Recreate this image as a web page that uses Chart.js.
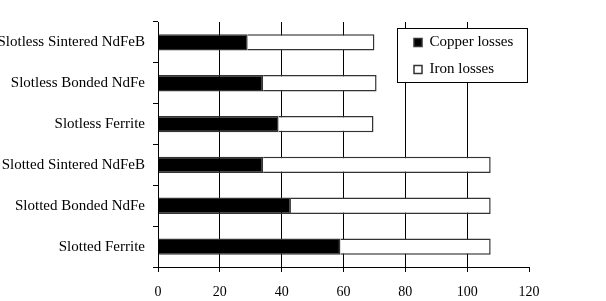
<!DOCTYPE html>
<html>
<head>
<meta charset="utf-8">
<script src="https://cdn.jsdelivr.net/npm/chart.js@4.4.1/dist/chart.umd.min.js"></script>
<style>
  html, body { margin: 0; padding: 0; background: #ffffff; }
  #wrap { width: 606px; height: 301px; position: relative; }
</style>
</head>
<body>
<div id="wrap"><canvas id="c" width="606" height="301"></canvas></div>
<script>
// ---- data ----
const categories = [
  "Slotless Sintered NdFeB",
  "Slotless Bonded NdFe",
  "Slotless Ferrite",
  "Slotted Sintered NdFeB",
  "Slotted Bonded NdFe",
  "Slotted Ferrite"
];
const copperLosses = [29, 34, 39, 34, 43, 59];
const ironLosses   = [41, 36.7, 30.7, 73.6, 64.6, 48.6];
const seriesNames  = ["Copper losses", "Iron losses"];
const xTicks       = [0, 20, 40, 60, 80, 100, 120];

// ---- legend frame plugin ----
const legendFrame = {
  id: 'legendFrame',
  afterLayout(chart) {
    const lg = chart.legend;
    if (!lg) return;
    lg.left = 402; lg.top = 23;
    lg.right = lg.left + 126; lg.bottom = lg.top + 200;
    if (!lg._wrapped) {
      const orig = lg.draw.bind(lg);
      lg.draw = function () {
        const ctx = chart.ctx;
        ctx.save();
        ctx.fillStyle = '#ffffff';
        ctx.fillRect(397, 28, 131, 54);
        ctx.strokeStyle = '#000000';
        ctx.lineWidth = 1;
        ctx.strokeRect(397.5, 28.5, 130, 54);
        ctx.restore();
        orig();
      };
      lg._wrapped = true;
    }
  }
};

Chart.defaults.font.family = "'Liberation Serif', 'Times New Roman', serif";
Chart.defaults.color = '#000000';

new Chart(document.getElementById('c'), {
  type: 'bar',
  data: {
    labels: categories,
    datasets: [
      {
        label: seriesNames[0],
        data: copperLosses,
        backgroundColor: '#000000',
        borderColor: '#333333',
        borderWidth: 1.5
      },
      {
        label: seriesNames[1],
        data: ironLosses,
        backgroundColor: '#ffffff',
        borderColor: '#333333',
        borderWidth: 1.5
      }
    ]
  },
  options: {
    indexAxis: 'y',
    responsive: false,
    animation: false,
    devicePixelRatio: 1,
    barPercentage: 0.4,
    categoryPercentage: 1,
    layout: { padding: { left: 0, top: 22, right: 77, bottom: 0 } },
    plugins: {
      tooltip: { enabled: false },
      legend: {
        position: 'chartArea',
        align: 'start',
        labels: {
          font: { size: 15 },
          color: '#000000',
          boxWidth: 8,
          boxHeight: 8,
          padding: 12
        }
      }
    },
    scales: {
      x: {
        stacked: true,
        min: 0,
        max: 120,
        afterBuildTicks(scale) { scale.ticks = xTicks.map(v => ({ value: v })); },
        afterFit(scale) { scale.height = 34; },
        ticks: { font: { size: 14 }, color: '#000000', padding: 12 },
        grid: {
          color: (ctx) => (ctx.tick && ctx.tick.value === 120) ? 'rgba(0,0,0,0)' : '#000000',
          tickColor: '#000000',
          tickLength: 5,
          lineWidth: 1
        },
        border: { display: true, color: '#000000', width: 1 }
      },
      y: {
        stacked: true,
        afterFit(scale) { scale.width = 158; },
        ticks: { font: { size: 15 }, color: '#000000', padding: 8 },
        grid: {
          drawOnChartArea: false,
          offset: true,
          color: '#000000',
          tickLength: 5
        },
        border: { display: true, color: '#000000', width: 1 }
      }
    }
  },
  plugins: [legendFrame]
});
</script>
</body>
</html>
